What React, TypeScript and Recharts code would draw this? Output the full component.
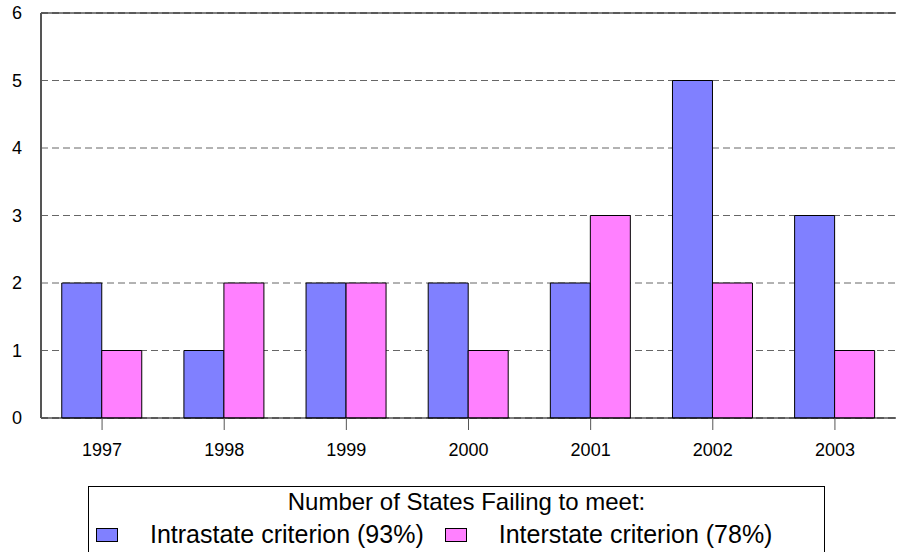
import React from 'react';
import {
  BarChart,
  Bar,
  XAxis,
  YAxis,
  CartesianGrid,
  ReferenceLine,
} from 'recharts';

const years = ['1997', '1998', '1999', '2000', '2001', '2002', '2003'];
const intrastate = [2, 1, 2, 2, 2, 5, 3];
const interstate = [1, 2, 2, 1, 3, 2, 1];
const yTicks = [0, 1, 2, 3, 4, 5, 6];

const legendTitle = 'Number of States Failing to meet:';
const seriesNames = ['Intrastate criterion (93%)', 'Interstate criterion (78%)'];
const seriesColors = ['#8080ff', '#ff80ff'];

const FONT = '"Liberation Sans", Arial, sans-serif';

const data = years.map((year, i) => ({
  year,
  intra: intrastate[i],
  inter: interstate[i],
}));

const App: React.FC = () => {
  return (
    <div style={{ position: 'absolute', left: 0, top: 0, width: 901, height: 552, overflow: 'hidden', background: '#fff', fontFamily: FONT }}>
      <BarChart
        width={901}
        height={552}
        data={data}
        margin={{ top: 13, right: 5, left: 0, bottom: 94 }}
        barCategoryGap="17%"
        barGap={0}
      >
        <CartesianGrid horizontal vertical={false} strokeDasharray="7 4" stroke="#666" />
        <XAxis
          dataKey="year"
          height={40}
          tickSize={12}
          tickMargin={13}
          tickLine={{ stroke: '#555' }}
          axisLine={{ stroke: '#000' }}
          tick={{ fontSize: 18, fill: '#000', fontFamily: FONT }}
        />
        <YAxis
          width={41}
          domain={[0, 6]}
          ticks={yTicks}
          interval={0}
          tickSize={0}
          tickMargin={19}
          tickLine={false}
          axisLine={{ stroke: '#555', strokeWidth: 2 }}
          tick={{ fontSize: 18, fill: '#000', fontFamily: FONT }}
        />
        <YAxis
          yAxisId="right"
          orientation="right"
          width={0}
          domain={[0, 6]}
          tick={false}
          tickLine={false}
          axisLine={{ stroke: '#000' }}
        />
        <ReferenceLine y={6} stroke="#000" />
        <Bar dataKey="intra" fill={seriesColors[0]} stroke="#000" strokeWidth={1} isAnimationActive={false} />
        <Bar dataKey="inter" fill={seriesColors[1]} stroke="#000" strokeWidth={1} isAnimationActive={false} />
      </BarChart>

      <div
        style={{
          position: 'absolute',
          left: 88,
          top: 486,
          width: 737,
          height: 90,
          border: '1px solid #000',
          boxSizing: 'border-box',
          background: '#fff',
          color: '#000',
        }}
      >
        <div style={{ position: 'absolute', left: 20, right: 0, top: 3, textAlign: 'center', fontSize: 24, lineHeight: '24px', whiteSpace: 'nowrap' }}>
          {legendTitle}
        </div>
        <div style={{ position: 'absolute', left: 7, top: 35, display: 'flex', alignItems: 'center', fontSize: 25, lineHeight: '25px', whiteSpace: 'nowrap' }}>
          {seriesNames.map((name, i) => (
            <div key={name} style={{ display: 'flex', alignItems: 'center', marginRight: 21 }}>
              <span
                style={{
                  display: 'inline-block',
                  width: 22,
                  height: 14,
                  background: seriesColors[i],
                  border: '1px solid #000',
                  boxSizing: 'border-box',
                  marginRight: 32,
                }}
              />
              <span>{name}</span>
            </div>
          ))}
        </div>
      </div>
    </div>
  );
};

export default App;
